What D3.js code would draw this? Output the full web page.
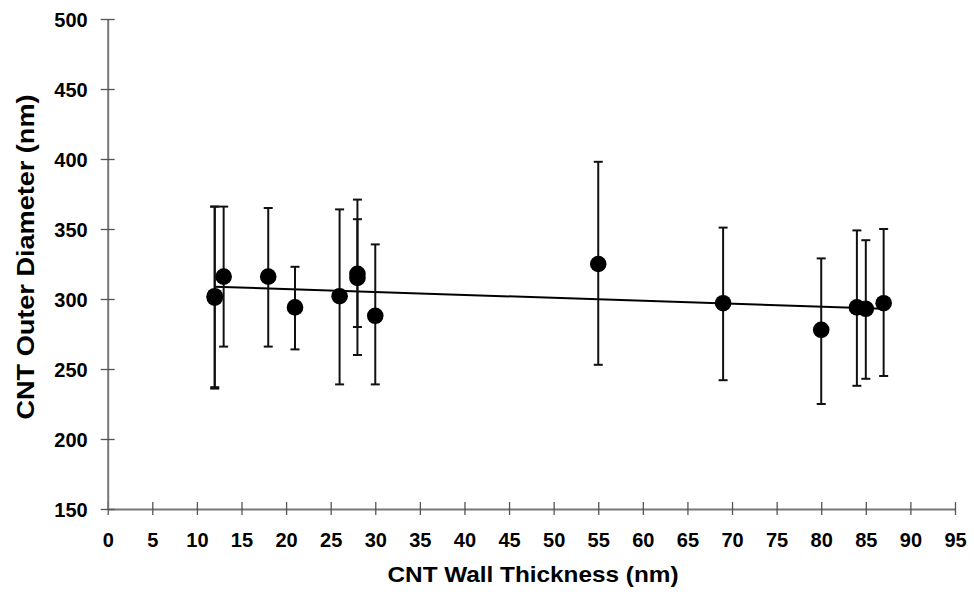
<!DOCTYPE html>
<html>
<head>
<meta charset="utf-8">
<script src="https://cdn.jsdelivr.net/npm/d3@7"></script>
<style>
  body { margin: 0; background: #fff; }
  svg { display: block; font-family: "Liberation Sans", Arial, sans-serif; }
</style>
</head>
<body>
<svg width="974" height="598"></svg>
<script>
// wall thickness (nm), outer diameter (nm), error bar high / low
var thickness = [12, 12, 13, 18, 21, 26, 28, 28, 30, 55, 69, 80, 84, 85, 87];
var diameter  = [302, 301, 316, 316, 294, 302, 318, 315, 288, 325, 297, 278, 294, 293, 297];
var errHigh   = [366, 366, 366, 365, 323, 364, 357, 371, 339, 398, 351, 329, 349, 342, 350];
var errLow    = [237, 236, 266, 266, 264, 239, 280, 260, 239, 253, 242, 225, 238, 243, 245];

// trend line ends
var trendX = [12, 87];
var trendY = [308.8, 293.1];

var xTicks = d3.range(0, 96, 5);
var yTicks = d3.range(150, 501, 50);

var svg = d3.select("svg");

var x = d3.scaleLinear().domain([0, 95]).range([107.7, 955]);
var y = d3.scaleLinear().domain([150, 500]).range([509, 19]);

var points = thickness.map(function(t, i) {
    return { x: t, y: diameter[i], hi: errHigh[i], lo: errLow[i] };
});

//axes
var xAxis = svg.append("g")
    .attr("transform", "translate(0," + y(150) + ")")
    .call(d3.axisBottom(x).tickValues(xTicks).tickSizeInner(6).tickSizeOuter(0).tickPadding(18));
var yAxis = svg.append("g")
    .attr("transform", "translate(" + x(0) + ",0)")
    .call(d3.axisLeft(y).tickValues(yTicks).tickSizeInner(7).tickSizeOuter(0).tickPadding(13));

[xAxis, yAxis].forEach(function(a) {
    a.select(".domain").attr("stroke", "#777").attr("stroke-width", 2);
    a.selectAll(".tick line").attr("stroke", "#555").attr("stroke-width", 1.3);
    a.selectAll(".tick text")
        .attr("fill", "#000")
        .style("font-size", "20px")
        .style("font-weight", "bold");
});
// ticks cross the axis lines
xAxis.selectAll(".tick line").attr("y1", -7);
yAxis.selectAll(".tick line").attr("x1", 7);
yAxis.selectAll(".tick text").attr("dy", "0.35em");

//trend line
svg.append("line")
    .attr("x1", x(trendX[0])).attr("y1", y(trendY[0]))
    .attr("x2", x(trendX[1])).attr("y2", y(trendY[1]))
    .attr("stroke", "#000")
    .attr("stroke-width", 2);

//error bars
var bars = svg.append("g").attr("stroke", "#111").attr("stroke-width", 2);
bars.selectAll("line.v")
    .data(points)
    .enter().append("line")
    .attr("class", "v")
    .attr("x1", function(d) { return x(d.x); })
    .attr("x2", function(d) { return x(d.x); })
    .attr("y1", function(d) { return y(d.hi); })
    .attr("y2", function(d) { return y(d.lo); });
["hi", "lo"].forEach(function(k) {
    bars.selectAll("line." + k)
        .data(points)
        .enter().append("line")
        .attr("class", k)
        .attr("x1", function(d) { return x(d.x) - 4.5; })
        .attr("x2", function(d) { return x(d.x) + 4.5; })
        .attr("y1", function(d) { return y(d[k]); })
        .attr("y2", function(d) { return y(d[k]); });
});

//markers
svg.append("g")
    .selectAll("circle")
    .data(points)
    .enter().append("circle")
    .attr("cx", function(d) { return x(d.x); })
    .attr("cy", function(d) { return y(d.y); })
    .attr("r", 8.3)
    .attr("fill", "#000");

//axis titles
svg.append("text")
    .attr("x", 533)
    .attr("y", 582)
    .attr("text-anchor", "middle")
    .attr("textLength", 291)
    .attr("lengthAdjust", "spacingAndGlyphs")
    .style("font-size", "22px")
    .style("font-weight", "bold")
    .text("CNT Wall Thickness (nm)");

svg.append("text")
    .attr("transform", "translate(34,257) rotate(-90)")
    .attr("text-anchor", "middle")
    .attr("textLength", 325)
    .attr("lengthAdjust", "spacingAndGlyphs")
    .style("font-size", "24px")
    .style("font-weight", "bold")
    .text("CNT Outer Diameter (nm)");
</script>
</body>
</html>
